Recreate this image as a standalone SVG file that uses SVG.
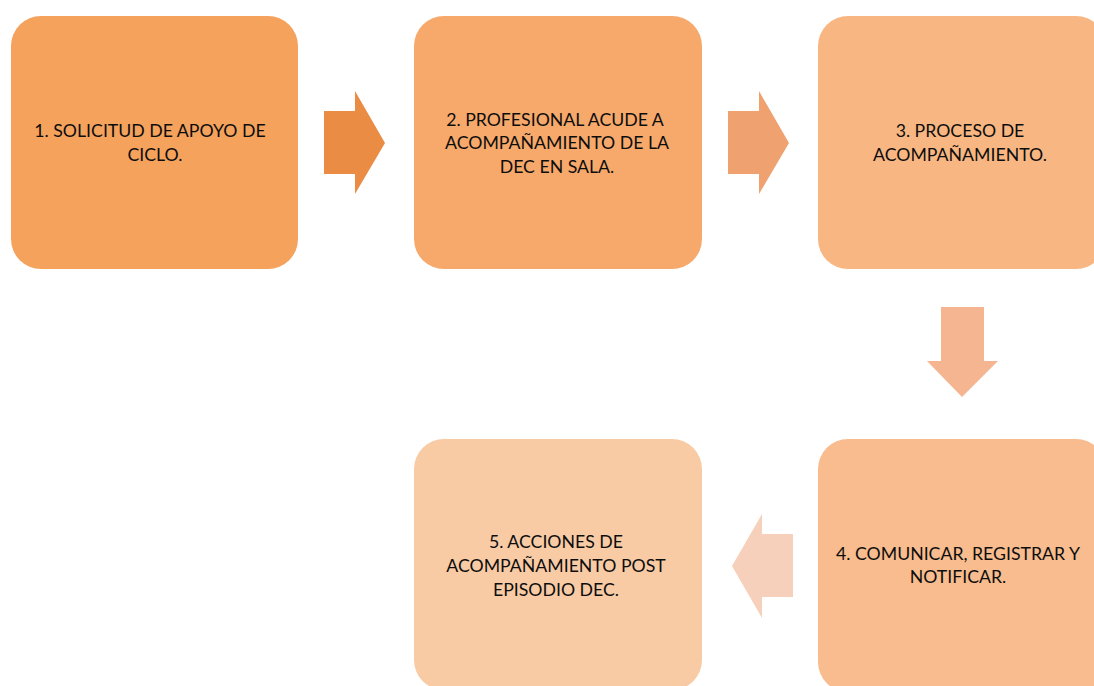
<svg xmlns="http://www.w3.org/2000/svg" width="1094" height="686" viewBox="0 0 1094 686">
<style>
.box{stroke:none}
.t{font-family:Lato,"Liberation Sans",sans-serif;font-size:17.7px;fill:#0d0d0d;text-anchor:middle}
</style>
<rect x="0" y="0" width="1094" height="686" fill="#fff"/>
<g id="connectors">
<polygon points="324,111 355,111 355,91 385,143 355,194 355,174 324,174" fill="#EA8C44"/>
<polygon points="728,111 759,111 759,91 789,143 759,194 759,174 728,174" fill="#EFA26F"/>
<polygon points="941,307 984,307 984,361 998,361 962,397 927,361 941,361" fill="#F4B590"/>
<polygon points="793,534 762,534 762,514 732,566 762,618 762,597 793,597" fill="#F6D0BA"/>
</g>
<g id="n1"><rect class="box" x="11" y="16" width="287" height="253" rx="30" fill="#F5A25C"/>
<text class="t" x="150" y="137">1. SOLICITUD DE APOYO DE</text><text class="t" x="155" y="161">CICLO.</text></g>
<g id="n2"><rect class="box" x="414" y="16" width="288" height="253" rx="30" fill="#F6A96B"/>
<text class="t" x="555" y="126">2. PROFESIONAL ACUDE A</text><text class="t" x="557" y="149">ACOMPAÑAMIENTO DE LA</text><text class="t" x="557" y="173">DEC EN SALA.</text></g>
<g id="n3"><rect class="box" x="818" y="16" width="288" height="253" rx="30" fill="#F8B782"/>
<text class="t" x="960" y="137">3. PROCESO DE</text><text class="t" x="960" y="161">ACOMPAÑAMIENTO.</text></g>
<g id="n4"><rect class="box" x="818" y="439" width="288" height="253" rx="30" fill="#F8BC8E"/>
<text class="t" x="958" y="560">4. COMUNICAR, REGISTRAR Y</text><text class="t" x="958" y="583">NOTIFICAR.</text></g>
<g id="n5"><rect class="box" x="414" y="439" width="288" height="251" rx="30" fill="#F9CBA5"/>
<text class="t" x="556" y="548">5. ACCIONES DE</text><text class="t" x="556" y="572">ACOMPAÑAMIENTO POST</text><text class="t" x="556" y="596">EPISODIO DEC.</text></g>
</svg>
